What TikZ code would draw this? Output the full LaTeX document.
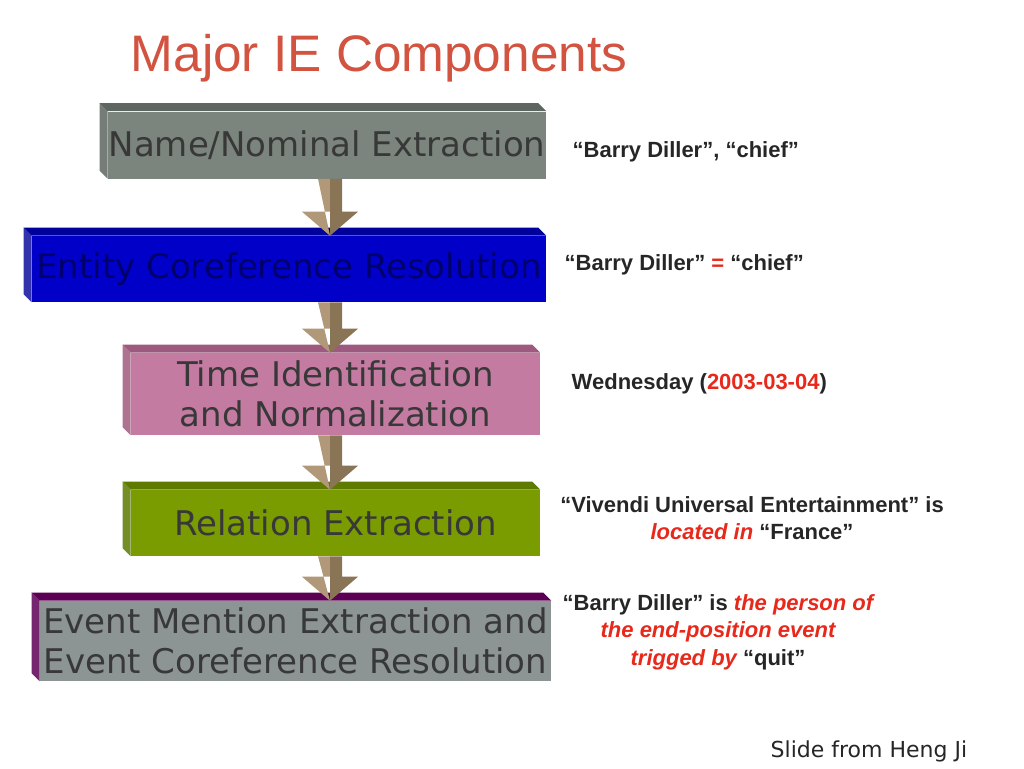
\documentclass[tikz,border=0pt]{standalone}
\usepackage{fontspec}
\setmainfont{Liberation Sans}
\newfontfamily\boxfont{DejaVu Sans}
\usetikzlibrary{calc, positioning}

\definecolor{titlered}{HTML}{D2533F}
\definecolor{hired}{HTML}{E8281A}
\definecolor{grayF}{HTML}{7B847D}
\definecolor{grayT}{HTML}{5E6661}
\definecolor{blueF}{HTML}{0000C8}
\definecolor{blueT}{HTML}{00009A}
\definecolor{pinkF}{HTML}{C47BA2}
\definecolor{pinkT}{HTML}{9E5A7E}
\definecolor{greenF}{HTML}{7A9C00}
\definecolor{greenT}{HTML}{5E7A00}
\definecolor{purpT}{HTML}{5C0055}
\definecolor{evgray}{HTML}{8C9494}
\definecolor{tanL}{HTML}{B09878}
\definecolor{tanD}{HTML}{8A7456}

\tikzset{
  stagebox/.style={rectangle, inner sep=0pt, font=\boxfont\fontsize{25.5}{30}\selectfont,
    text=black!78, align=center},
  note/.style={font=\bfseries\fontsize{16.5}{20.5}\selectfont, align=center, text=black!85},
}

% front face given by node, bevel on left and top
\newcommand{\bevelbox}[3]{%
  \fill[#2] ($(#1.south west)+(-8,-8)$) -- ($(#1.north west)+(-8,-8)$)
     -- (#1.north west) -- (#1.south west) -- cycle;
  \fill[#3] ($(#1.north west)+(-8,-8)$) -- ($(#1.north east)+(-8,-8)$)
     -- (#1.north east) -- (#1.north west) -- cycle;
}
\newcommand{\stagearrow}[2]{%
  \coordinate (s) at (#1.south -| stem);
  \coordinate (e) at (#2.north -| stem);
  \fill[tanL] ($(s)+(-12,0)$) -- ($(s)+(0,0)$) -- ($(e)+(0,-24)$) -- ($(e)+(-28,-24)$) -- (e) -- cycle;
  \fill[tanD] ($(s)+(0,0)$) -- ($(s)+(12,0)$) -- ($(e)+(12,-24)$) -- ($(e)+(28,-24)$) -- (e) -- ($(e)+(0,-24)$) -- cycle;
}

\begin{document}
\begin{tikzpicture}[x=0.75pt, y=-0.75pt]
	\useasboundingbox (0,0) rectangle (1024,768);
	\coordinate (stem) at (330,0);

	\node[font=\fontsize{38.5}{42}\selectfont, text=titlered, anchor=west] (title) at (126,58) {Major IE Components};

	\node[stagebox, fill=grayF, minimum width=438*0.75pt, minimum height=67*0.75pt] (name) at (327,145) {Name/Nominal Extraction};
	\node[stagebox, fill=blueF, minimum width=514*0.75pt, minimum height=66*0.75pt, text=blueT!70!black] (entity) at (289,269) {Entity Coreference Resolution};
	\node[stagebox, fill=pinkF, minimum width=409*0.75pt, minimum height=82*0.75pt] (time) at (335.5,394) {Time Identification\\ and Normalization};
	\node[stagebox, fill=greenF, minimum width=409*0.75pt, minimum height=66*0.75pt] (relation) at (335.5,523) {Relation Extraction};
	\node[stagebox, fill=evgray, minimum width=511*0.75pt, minimum height=80*0.75pt] (event) at (295.5,641) {Event Mention Extraction and\\ Event Coreference Resolution};

	\bevelbox{name}{grayT!85}{grayT}
	\bevelbox{entity}{blueT!80!white}{blueT}
	\bevelbox{time}{pinkT!85}{pinkT}
	\bevelbox{relation}{greenT!85!white}{greenT}
	\bevelbox{event}{purpT!85!white}{purpT}

	\stagearrow{name}{entity}
	\stagearrow{entity}{time}
	\stagearrow{time}{relation}
	\stagearrow{relation}{event}

	\node[note, anchor=west] (ex1) at (568,152) {``Barry Diller'', ``chief''};
	\node[note, anchor=west] (ex2) at (560,265) {``Barry Diller'' \textcolor{hired}{=} ``chief''};
	\node[note, anchor=west] (ex3) at (567,384) {Wednesday (\textcolor{hired}{2003-03-04})};
	\node[note] (ex4) at (752,518) {``Vivendi Universal Entertainment'' is\\ \textcolor{hired}{\itshape located in} ``France''};
	\node[note] (ex5) at (718,632) {``Barry Diller'' is \textcolor{hired}{\itshape the person of}\\ \textcolor{hired}{\itshape the end-position event}\\ \textcolor{hired}{\itshape trigged by} ``quit''};

	\node[font=\boxfont\fontsize{16.5}{18}\selectfont, anchor=west, text=black!85] (credit) at (766,751) {Slide from Heng Ji};
\end{tikzpicture}
\end{document}
